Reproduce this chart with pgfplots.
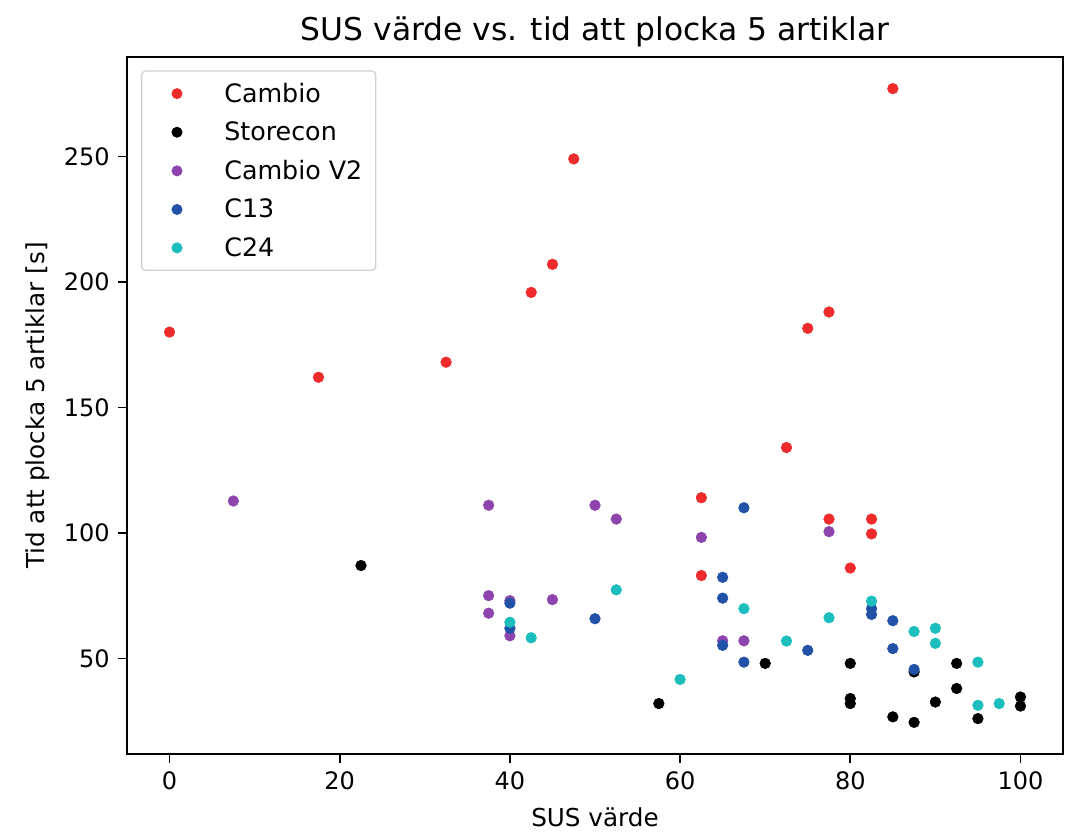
\documentclass[border=0pt]{standalone}
\usepackage{fontspec}
\setmainfont{DejaVu Sans}
\usepackage{pgfplots}
\pgfplotsset{compat=1.18}
\definecolor{cred}{HTML}{EF2B2B}
\definecolor{cpur}{HTML}{8E44AD}
\definecolor{cblu}{HTML}{2152A8}
\definecolor{ccya}{HTML}{1CBDBD}
\begin{document}
\begin{tikzpicture}
\begin{axis}[
  name=ax,
  width=702pt, height=522.75pt, scale only axis,
  xmin=-5, xmax=105, ymin=11.9, ymax=289.6,
  xtick={0,20,40,60,80,100},
  ytick={50,100,150,200,250},
  axis line style={line width=1.3pt},
  every tick/.style={black, line width=1.2pt},
  major tick length=6.5pt,
  tick align=outside, tick pos=left,
  /pgf/number format/assume math mode=true,
  tick label style={font=\fontsize{18}{21.6}\selectfont},
  xticklabel style={yshift=-3pt},
  yticklabel style={xshift=-3pt},
  title={SUS värde vs. tid att plocka 5 artiklar},
  title style={font=\fontsize{23.5}{28}\selectfont, yshift=-2pt},
  xlabel={SUS värde},
  ylabel={Tid att plocka 5 artiklar [s]},
  every axis x label/.style={at={(ticklabel cs:0.5)}, anchor=near ticklabel, yshift=-7pt, font=\fontsize{18.5}{22}\selectfont},
  every axis y label/.style={at={(ticklabel cs:0.5)}, rotate=90, anchor=near ticklabel, yshift=4pt, font=\fontsize{18.5}{22}\selectfont},
  legend style={at={(0,1)}, anchor=north west, xshift=10.5pt, yshift=-10pt,
    draw=black!18, line width=1pt, rounded corners=3pt,
    font=\fontsize{19}{22.8}\selectfont,
    inner xsep=8pt, inner ysep=7pt, row sep=9.2pt,
    nodes={inner sep=2pt}},
  legend cell align=left,
  legend image code/.code={\path (0pt,0pt) (51pt,0pt); \draw[mark repeat=1,#1,mark size=3.6pt] plot coordinates {(18pt,0pt)};},
]
\addplot[only marks, mark=*, mark size=4pt, draw=cred, fill=cred] coordinates {
(0,180) (17.5,162) (32.5,168) (42.5,195.8) (45,207) (47.5,249) (62.5,114) (62.5,83)
(72.5,134) (75,181.5) (77.5,188) (77.5,105.5) (80,86) (82.5,105.5) (82.5,99.6) (85,277)
};
\addlegendentry{Cambio}
\addplot[only marks, mark=*, mark size=4pt, draw=black, fill=black] coordinates {
(22.5,87) (57.5,32) (70,48) (80,48) (80,34) (80,32) (85,26.7) (87.5,24.5) (87.5,44.6)
(90,32.6) (92.5,48) (92.5,38) (95,26) (100,34.6) (100,31)
};
\addlegendentry{Storecon}
\addplot[only marks, mark=*, mark size=4pt, draw=cpur, fill=cpur] coordinates {
(7.5,112.7) (37.5,111) (37.5,75) (37.5,68) (40,59) (40,73) (45,73.4) (50,111) (52.5,105.5)
(62.5,98.2) (65,57) (67.5,57) (77.5,100.5)
};
\addlegendentry{Cambio V2}
\addplot[only marks, mark=*, mark size=4pt, draw=cblu, fill=cblu] coordinates {
(40,72) (40,62) (50,65.8) (65,82.3) (65,74) (65,55.2) (67.5,110) (67.5,48.5) (75,53.2)
(82.5,69.8) (82.5,67.5) (85,65) (85,53.9) (87.5,45.6)
};
\addlegendentry{C13}
\addplot[only marks, mark=*, mark size=4pt, draw=ccya, fill=ccya] coordinates {
(40,64.4) (42.5,58.2) (52.5,77.3) (60,41.6) (67.5,69.8) (72.5,56.9) (77.5,66.2) (82.5,72.8)
(87.5,60.7) (90,62) (90,56) (95,48.5) (95,31.3) (97.5,32)
};
\addlegendentry{C24}
\end{axis}
\pgfresetboundingbox
\path ([shift={(-95.25pt,-60pt)}]ax.south west) rectangle ([shift={(1.5pt,42.75pt)}]ax.north east);
\end{tikzpicture}
\end{document}
